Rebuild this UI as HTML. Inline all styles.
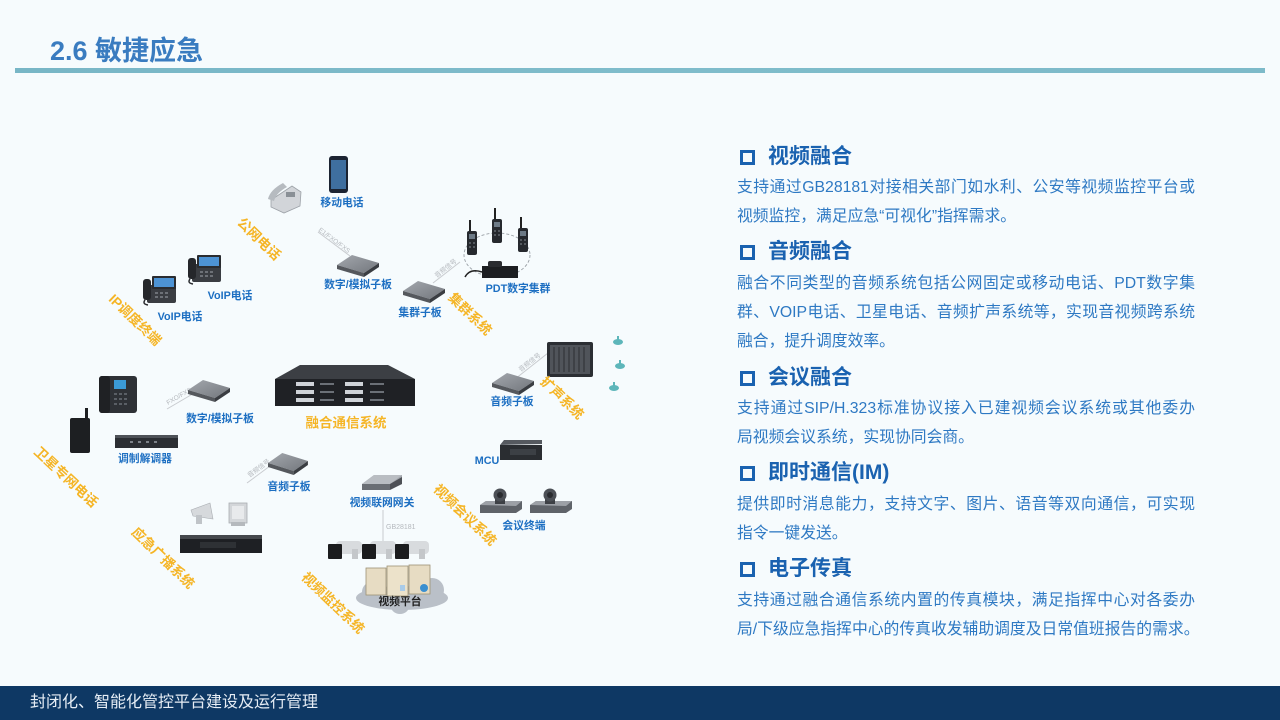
<!DOCTYPE html>
<html lang="zh">
<head>
<meta charset="utf-8">
<style>
  html,body{margin:0;padding:0;}
  body{width:1280px;height:720px;overflow:hidden;background:#f6fbfd;position:relative;
       font-family:"Liberation Sans","Noto Sans CJK SC",sans-serif;}
  .title{position:absolute;left:50px;top:33px;font-size:27px;font-weight:bold;color:#3a7cc0;line-height:36px;white-space:nowrap;letter-spacing:0px;}
  .hline{position:absolute;left:15px;top:68px;width:1250px;height:5px;background:linear-gradient(90deg,#78b6c6,#7fbccb 50%,#7dbac9);}
  .footer{position:absolute;left:0;top:686px;width:1280px;height:34px;background:#0e3864;}
  .footer span{position:absolute;left:30px;top:6px;font-size:16px;line-height:22px;color:#e6edf5;white-space:nowrap;}
  .sq{position:absolute;left:740px;width:9px;height:9px;border:3px solid #1a62b0;}
  .h{position:absolute;left:768px;font-size:21px;font-weight:bold;color:#1a62b0;line-height:28px;white-space:nowrap;}
  .b{position:absolute;left:737px;width:458px;font-size:15.8px;line-height:28px;color:#2e79c3;white-space:nowrap;}
  .j{text-align:justify;text-align-last:justify;}
  svg{position:absolute;left:0;top:0;}
  .lb{font-family:"Liberation Sans","Noto Sans CJK SC",sans-serif;font-size:10.8px;font-weight:bold;fill:#1d6fc2;}
  .or{font-family:"Liberation Sans","Noto Sans CJK SC",sans-serif;font-size:13.5px;font-weight:bold;fill:#f5b526;}
  .sm{font-family:"Liberation Sans","Noto Sans CJK SC",sans-serif;font-size:6.5px;fill:#b4b8bd;}
</style>
</head>
<body>
<div class="title">2.6 敏捷应急</div>
<div class="hline"></div>

<svg width="1280" height="720" viewBox="0 0 1280 720">
  <defs>
    <linearGradient id="bt" x1="0" y1="0" x2="1" y2="1">
      <stop offset="0" stop-color="#a3a7ad"/><stop offset="1" stop-color="#73777d"/>
    </linearGradient>
    <g id="board">
      <polygon points="0,10 15,0 42,8 27,18" fill="url(#bt)"/>
      <polygon points="0,10 27,18 27,22 0,14" fill="#55585d"/>
      <polygon points="27,18 42,8 42,12 27,22" fill="#3a3d42"/>
    </g>
    <g id="voip">
      <rect x="4" y="9" width="29" height="18" rx="2" fill="#3a3d42"/>
      <rect x="0" y="3" width="8" height="21" rx="3" fill="#25272b"/>
      <rect x="9" y="0" width="24" height="13" rx="1" fill="#2a2c30"/>
      <rect x="11" y="2" width="20" height="9" fill="#4d93d4"/>
      <g fill="#6d7177"><rect x="12" y="16" width="3" height="2"/><rect x="17" y="16" width="3" height="2"/><rect x="22" y="16" width="3" height="2"/><rect x="12" y="20" width="3" height="2"/><rect x="17" y="20" width="3" height="2"/><rect x="22" y="20" width="3" height="2"/></g>
      <path d="M2 24 q-3 4 3 5" stroke="#2a2c30" stroke-width="1.5" fill="none"/>
    </g>
    <g id="radio">
      <rect x="2" y="0" width="2" height="12" fill="#222"/>
      <rect x="0" y="11" width="10" height="24" rx="2" fill="#26292e"/>
      <rect x="2" y="14" width="6" height="5" fill="#6d7a86"/>
      <g fill="#555a60"><rect x="2" y="22" width="2" height="2"/><rect x="6" y="22" width="2" height="2"/><rect x="2" y="26" width="2" height="2"/><rect x="6" y="26" width="2" height="2"/></g>
    </g>
    <g id="bullet">
      <rect x="8" y="0" width="26" height="13" rx="4" fill="#d8dbde"/>
      <rect x="0" y="3" width="14" height="15" rx="1" fill="#1b1c1e"/>
      <rect x="24" y="8" width="6" height="10" fill="#c4c7ca"/>
    </g>
    <g id="conf">
      <polygon points="0,16 6,12 42,12 42,20 36,24 0,24" fill="#5f6369"/>
      <polygon points="0,16 6,12 42,12 36,17" fill="#9ca0a6"/>
      <rect x="15" y="8" width="10" height="7" fill="#3d4045"/>
      <circle cx="20" cy="6" r="6.5" fill="#4c5056"/>
      <circle cx="20" cy="6" r="3" fill="#2a2c30"/>
    </g>
  </defs>

  <!-- connector lines -->
  <g stroke="#c8cbcf" stroke-width="1" fill="none">
    <line x1="318" y1="232" x2="350" y2="256"/>
    <line x1="433" y1="283" x2="460" y2="262"/>
    <line x1="515" y1="379" x2="548" y2="353"/>
    <line x1="167" y1="409" x2="196" y2="392"/>
    <line x1="247" y1="483" x2="274" y2="463"/>
    <line x1="383" y1="510" x2="383" y2="542"/>
  </g>
  <text class="sm" x="333" y="242" text-anchor="middle" transform="rotate(37 333 242)">E1/FXO/FXS</text>
  <text class="sm" x="447" y="270" text-anchor="middle" transform="rotate(-38 447 270)">音频信号</text>
  <text class="sm" x="531" y="364" text-anchor="middle" transform="rotate(-38 531 364)">音频信号</text>
  <text class="sm" x="180" y="398" text-anchor="middle" transform="rotate(-30 180 398)">FXO/FXS</text>
  <text class="sm" x="260" y="470" text-anchor="middle" transform="rotate(-36 260 470)">音频信号</text>
  <text class="sm" x="386" y="529" style="font-size:7px">GB28181</text>

  <!-- mobile phone -->
  <rect x="329" y="156" width="19" height="37" rx="3" fill="#1c2432"/>
  <rect x="331" y="160" width="15" height="29" fill="#3f6f9f"/>
  <!-- public desk phone -->
  <path d="M271 200 L292 186 L301 192 L300 206 L284 213 L271 207 Z" fill="#d2d5d9" stroke="#9ca1a7" stroke-width="0.8"/>
  <path d="M268 199 q2 -9 15 -16 l4 4 q-11 6 -13 14 z" fill="#b6bbc0"/>
  <rect x="286" y="192" width="9" height="5" fill="#8a9096"/>

  <!-- VoIP phones -->
  <use href="#voip" transform="translate(188,255)"/>
  <use href="#voip" transform="translate(143,276)"/>

  <!-- boards -->
  <use href="#board" transform="translate(337,255)"/>
  <use href="#board" transform="translate(403,281)"/>
  <use href="#board" transform="translate(492,373)"/>
  <use href="#board" transform="translate(188,380)"/>
  <use href="#board" transform="translate(268,453) scale(0.95,1)"/>
  <!-- gateway -->
  <g transform="translate(362,475)">
    <polygon points="0,9 12,0 40,0 40,9 28,14 0,14" fill="#a3a7ad"/>
    <polygon points="0,9 12,0 40,0 28,9" fill="#b9bdc2"/>
    <rect x="0" y="9" width="28" height="6" fill="#6a6e74"/>
    <polygon points="28,9 40,2 40,9 28,15" fill="#4d5056"/>
  </g>

  <!-- PDT radios -->
  <ellipse cx="497" cy="255" rx="33" ry="22" fill="none" stroke="#9aa0a6" stroke-width="0.9" stroke-dasharray="3,2"/>
  <use href="#radio" transform="translate(467,220)"/>
  <use href="#radio" transform="translate(492,208)"/>
  <use href="#radio" transform="translate(518,217)"/>
  <rect x="482" y="266" width="36" height="12" fill="#1c1e21"/>
  <rect x="488" y="261" width="14" height="6" rx="2" fill="#2a2c30"/>
  <path d="M482 272 q-12 -4 -17 5" stroke="#222" stroke-width="1.5" fill="none"/>

  <!-- mixer -->
  <rect x="547" y="342" width="46" height="35" rx="2" fill="#2b2e33"/>
  <rect x="550" y="345" width="40" height="29" fill="#50545a"/>
  <g stroke="#2b2e33" stroke-width="1">
    <line x1="554" y1="347" x2="554" y2="372"/><line x1="559" y1="347" x2="559" y2="372"/><line x1="564" y1="347" x2="564" y2="372"/><line x1="569" y1="347" x2="569" y2="372"/><line x1="574" y1="347" x2="574" y2="372"/><line x1="579" y1="347" x2="579" y2="372"/><line x1="584" y1="347" x2="584" y2="372"/>
  </g>
  <!-- speakers -->
  <g fill="#5db6ba">
    <ellipse cx="618" cy="342" rx="5" ry="3"/><rect x="617" y="336" width="2" height="5"/>
    <ellipse cx="620" cy="366" rx="5" ry="3"/><rect x="619" y="360" width="2" height="5"/>
    <ellipse cx="614" cy="388" rx="5" ry="3"/><rect x="613" y="382" width="2" height="5"/>
  </g>

  <!-- big fusion device -->
  <polygon points="300,365 388,365 415,379 275,379" fill="#3c3f44"/>
  <rect x="275" y="379" width="140" height="27" fill="#1f2125"/>
  <g fill="#cfd3d8">
    <rect x="296" y="382" width="18" height="4"/><rect x="345" y="382" width="18" height="4"/>
    <rect x="296" y="390" width="18" height="4"/><rect x="345" y="390" width="18" height="4"/>
    <rect x="296" y="398" width="18" height="4"/><rect x="345" y="398" width="18" height="4"/>
  </g>
  <g fill="#6b7077">
    <rect x="320" y="383" width="14" height="2"/><rect x="370" y="383" width="14" height="2"/>
    <rect x="320" y="391" width="14" height="2"/><rect x="370" y="391" width="14" height="2"/>
    <rect x="320" y="399" width="14" height="2"/><rect x="370" y="399" width="14" height="2"/>
  </g>

  <!-- satellite desk phone -->
  <rect x="99" y="376" width="38" height="37" rx="3" fill="#2e3136"/>
  <rect x="99" y="376" width="11" height="37" rx="3" fill="#1f2124"/>
  <rect x="114" y="380" width="12" height="9" fill="#3b9ad6"/>
  <g fill="#5a5f66"><rect x="114" y="393" width="3" height="2"/><rect x="119" y="393" width="3" height="2"/><rect x="124" y="393" width="3" height="2"/><rect x="114" y="398" width="3" height="2"/><rect x="119" y="398" width="3" height="2"/><rect x="124" y="398" width="3" height="2"/><rect x="114" y="403" width="3" height="2"/><rect x="119" y="403" width="3" height="2"/><rect x="124" y="403" width="3" height="2"/></g>
  <!-- satellite handheld -->
  <rect x="85" y="408" width="3" height="14" fill="#1d1f22"/>
  <rect x="70" y="418" width="20" height="35" rx="2" fill="#1d1f22"/>
  <!-- modem -->
  <rect x="115" y="435" width="63" height="13" fill="#2b2e33"/>
  <rect x="115" y="435" width="63" height="3" fill="#4e5258"/>
  <g fill="#7d8289"><rect x="130" y="441" width="3" height="2"/><rect x="138" y="441" width="3" height="2"/><rect x="146" y="441" width="3" height="2"/><rect x="154" y="441" width="3" height="2"/></g>

  <!-- horn & wall speaker -->
  <polygon points="191,510 210,503 213,519 193,516" fill="#d6d9dc" stroke="#a9adb2" stroke-width="0.6"/>
  <rect x="196" y="515" width="6" height="9" fill="#c0c4c8"/>
  <rect x="229" y="503" width="18" height="20" fill="#d3d6d9" stroke="#a8acb1" stroke-width="0.8"/>
  <rect x="232" y="506" width="12" height="13" fill="#e8eaec"/>
  <rect x="231" y="522" width="14" height="4" fill="#b5b9bd"/>
  <!-- amplifier -->
  <rect x="180" y="535" width="82" height="18" fill="#1e2024"/>
  <rect x="180" y="535" width="82" height="4" fill="#45484d"/>
  <rect x="200" y="542" width="36" height="6" fill="#2e3135"/>

  <!-- MCU -->
  <polygon points="504,440 542,440 542,444 500,445" fill="#55595f"/>
  <rect x="500" y="445" width="42" height="15" fill="#2a2d31"/>
  <rect x="510" y="449" width="26" height="6" fill="#3c4045"/>
  <!-- conference cams -->
  <use href="#conf" transform="translate(480,489)"/>
  <use href="#conf" transform="translate(530,489)"/>

  <!-- cloud -->
  <g fill="#bac0c8">
    <ellipse cx="402" cy="598" rx="46" ry="12"/>
    <circle cx="372" cy="592" r="10"/>
    <circle cx="432" cy="590" r="12"/>
    <circle cx="400" cy="604" r="10"/>
  </g>
  <!-- servers -->
  <g stroke="#9d9175" stroke-width="0.8">
    <rect x="366" y="568" width="20" height="27" fill="#e7dcc3"/>
    <rect x="387" y="566" width="21" height="30" fill="#ece2ca"/>
    <rect x="409" y="565" width="21" height="29" fill="#e7dcc3"/>
  </g>
  <rect x="400" y="585" width="5" height="6" fill="#a9cbe8"/>
  <circle cx="424" cy="588" r="4" fill="#3a8fd0"/>
  <!-- bullet cameras -->
  <use href="#bullet" transform="translate(328,541)"/>
  <use href="#bullet" transform="translate(362,541)"/>
  <use href="#bullet" transform="translate(395,541)"/>

  <!-- blue labels -->
  <g text-anchor="middle" dominant-baseline="central">
    <text class="lb" x="342" y="203">移动电话</text>
    <text class="lb" x="358" y="285">数字/模拟子板</text>
    <text class="lb" x="230" y="296">VoIP电话</text>
    <text class="lb" x="180" y="317">VoIP电话</text>
    <text class="lb" x="518" y="289">PDT数字集群</text>
    <text class="lb" x="420" y="313">集群子板</text>
    <text class="lb" x="512" y="402">音频子板</text>
    <text class="lb" x="220" y="419">数字/模拟子板</text>
    <text class="lb" x="145" y="459">调制解调器</text>
    <text class="lb" x="289" y="487">音频子板</text>
    <text class="lb" x="487" y="461">MCU</text>
    <text class="lb" x="382" y="503">视频联网网关</text>
    <text class="lb" x="524" y="526">会议终端</text>
    <text class="lb" x="400" y="602" style="fill:#222">视频平台</text>
  </g>

  <!-- orange labels -->
  <g text-anchor="middle" dominant-baseline="central">
    <text class="or" x="346" y="423">融合通信系统</text>
    <text class="or" x="259" y="239" transform="rotate(44 259 239)">公网电话</text>
    <text class="or" x="135" y="320" transform="rotate(44 135 320)">IP调度终端</text>
    <text class="or" x="470" y="314" transform="rotate(44 470 314)">集群系统</text>
    <text class="or" x="562" y="398" transform="rotate(44 562 398)">扩声系统</text>
    <text class="or" x="66" y="477" transform="rotate(43 66 477)">卫星专网电话</text>
    <text class="or" x="163" y="558" transform="rotate(44 163 558)">应急广播系统</text>
    <text class="or" x="465" y="515" transform="rotate(44 465 515)">视频会议系统</text>
    <text class="or" x="333" y="603" transform="rotate(44 333 603)">视频监控系统</text>
  </g>
</svg>

<!-- right text -->
<div class="sq" style="top:150px"></div>
<div class="h" style="top:143px">视频融合</div>
<div class="b j" style="top:174px">支持通过GB28181对接相关部门如水利、公安等视频监控平台或</div>
<div class="b" style="top:203px">视频监控，满足应急“可视化”指挥需求。</div>

<div class="sq" style="top:245px"></div>
<div class="h" style="top:238px">音频融合</div>
<div class="b j" style="top:270px">融合不同类型的音频系统包括公网固定或移动电话、PDT数字集</div>
<div class="b j" style="top:299px">群、VOIP电话、卫星电话、音频扩声系统等，实现音视频跨系统</div>
<div class="b" style="top:328px">融合，提升调度效率。</div>

<div class="sq" style="top:371px"></div>
<div class="h" style="top:364px">会议融合</div>
<div class="b j" style="top:395px">支持通过SIP/H.323标准协议接入已建视频会议系统或其他委办</div>
<div class="b" style="top:424px">局视频会议系统，实现协同会商。</div>

<div class="sq" style="top:466px"></div>
<div class="h" style="top:459px">即时通信(IM)</div>
<div class="b j" style="top:491px">提供即时消息能力，支持文字、图片、语音等双向通信，可实现</div>
<div class="b" style="top:520px">指令一键发送。</div>

<div class="sq" style="top:562px"></div>
<div class="h" style="top:555px">电子传真</div>
<div class="b j" style="top:587px">支持通过融合通信系统内置的传真模块，满足指挥中心对各委办</div>
<div class="b" style="top:616px">局/下级应急指挥中心的传真收发辅助调度及日常值班报告的需求。</div>

<div class="footer"><span>封闭化、智能化管控平台建设及运行管理</span></div>
</body>
</html>
